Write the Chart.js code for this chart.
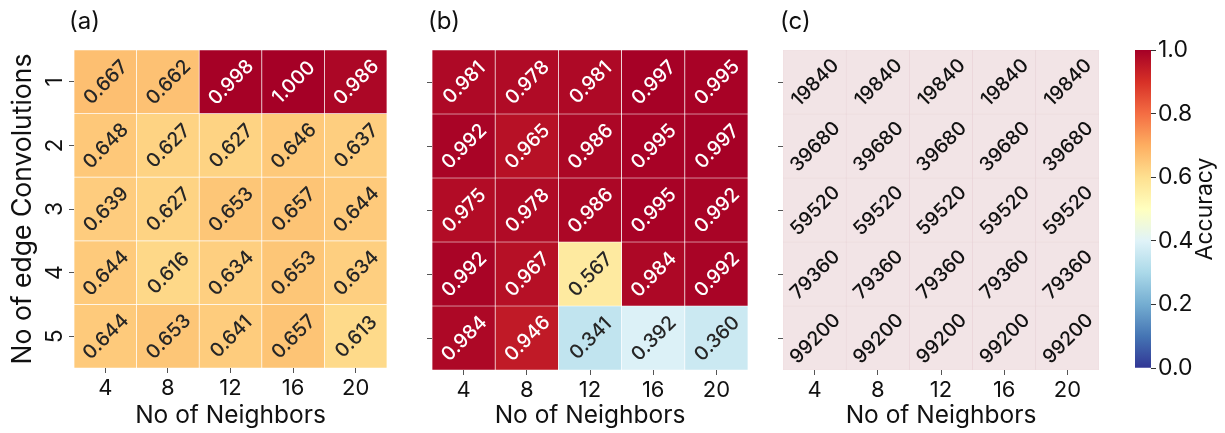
<!DOCTYPE html>
<html>
<head>
<meta charset="utf-8">
<script src="https://cdn.jsdelivr.net/npm/chart.js@4.4.1/dist/chart.umd.min.js"></script>
<style>
  html, body { margin: 0; padding: 0; background: #fff; width: 1225px; height: 433px; overflow: hidden; }
  canvas { position: absolute; top: 0; }
</style>
</head>
<body>
<canvas id="panelA" width="400" height="433" style="left:0px;width:400px;height:433px"></canvas>
<canvas id="panelB" width="360" height="433" style="left:400px;width:360px;height:433px"></canvas>
<canvas id="panelC" width="355" height="433" style="left:760px;width:355px;height:433px"></canvas>
<canvas id="colorbar" width="110" height="433" style="left:1115px;width:110px;height:433px"></canvas>
<script>
// Grid axes
const neighbors = ['4', '8', '12', '16', '20'];
const convRows = [1, 2, 3, 4, 5];
const rowTickLabels = ['1', '2', '3', '4', '5'];

// (a) accuracy per (convolutions, neighbors)
const accuracyA = [
  [0.667, 0.662, 0.998, 1.000, 0.986],
  [0.648, 0.627, 0.627, 0.646, 0.637],
  [0.639, 0.627, 0.653, 0.657, 0.644],
  [0.644, 0.616, 0.634, 0.653, 0.634],
  [0.644, 0.653, 0.641, 0.657, 0.613]
];

// (b) accuracy per (convolutions, neighbors)
const accuracyB = [
  [0.981, 0.978, 0.981, 0.997, 0.995],
  [0.992, 0.965, 0.986, 0.995, 0.997],
  [0.975, 0.978, 0.986, 0.995, 0.992],
  [0.992, 0.967, 0.567, 0.984, 0.992],
  [0.984, 0.946, 0.341, 0.392, 0.360]
];

// (c) parameter counts per (convolutions, neighbors)
const paramsC = [
  [19840, 19840, 19840, 19840, 19840],
  [39680, 39680, 39680, 39680, 39680],
  [59520, 59520, 59520, 59520, 59520],
  [79360, 79360, 79360, 79360, 79360],
  [99200, 99200, 99200, 99200, 99200]
];

// Colour bar ticks
const colorbarTicks = [0.0, 0.2, 0.4, 0.6, 0.8, 1.0];

const FONT = 'Inter, "Noto Sans", "DejaVu Sans", sans-serif';
Chart.defaults.font.family = FONT;
Chart.defaults.color = '#111';
Chart.defaults.animation = false;

// RdYlBu reversed, 11 anchors over [0, 1]
const RDYLBU_R = ['#313695', '#4575b4', '#74add1', '#abd9e9', '#e0f3f8', '#ffffbf',
                  '#fee090', '#fdae61', '#f46d43', '#d73027', '#a50026'];
function hexRgb(h) { return [1, 3, 5].map(i => parseInt(h.substr(i, 2), 16)); }
function cmap(v) {
  const t = Math.max(0, Math.min(1, v)) * (RDYLBU_R.length - 1);
  const i = Math.min(Math.floor(t), RDYLBU_R.length - 2);
  const f = t - i;
  const a = hexRgb(RDYLBU_R[i]), b = hexRgb(RDYLBU_R[i + 1]);
  const c = a.map((x, k) => Math.round(x + (b[k] - x) * f));
  return `rgb(${c[0]},${c[1]},${c[2]})`;
}

// Values printed inside each cell, rotated
const cellLabels = {
  id: 'cellLabels',
  afterDatasetsDraw(chart) {
    const ctx = chart.ctx;
    chart.data.datasets.forEach((ds, di) => {
      const meta = chart.getDatasetMeta(di);
      meta.data.forEach((bar, i) => {
        const cx = bar.x;
        const cy = (bar.y + bar.base) / 2;
        ctx.save();
        ctx.translate(cx, cy);
        ctx.rotate(-45 * Math.PI / 180);
        ctx.font = '500 19.5px ' + FONT;
        ctx.fillStyle = ds.textColors[i];
        ctx.textAlign = 'center';
        ctx.textBaseline = 'middle';
        ctx.fillText(ds.cellTexts[i], 0, 1);
        ctx.restore();
      });
    });
  }
};

// Panel letter and rotated row tick labels
const panelDecor = {
  id: 'panelDecor',
  afterDraw(chart, args, opts) {
    const ctx = chart.ctx;
    const area = chart.chartArea;
    ctx.save();
    ctx.fillStyle = '#111';
    ctx.font = '24px ' + FONT;
    ctx.textAlign = 'left';
    ctx.textBaseline = 'middle';
    ctx.fillText(opts.letter, area.left + opts.letterDx, 22);
    if (opts.rowLabels) {
      const y = chart.scales.y;
      ctx.font = '23px ' + FONT;
      ctx.textAlign = 'center';
      y.ticks.forEach((t, i) => {
        ctx.save();
        ctx.translate(area.left - 19, y.getPixelForValue(t.value));
        ctx.rotate(-Math.PI / 2);
        ctx.fillText(rowTickLabels[i], 0, 0);
        ctx.restore();
      });
    }
    ctx.restore();
  }
};

function heatPanel(id, values, cfg) {
  const datasets = convRows.map((r, ri) => ({
    data: neighbors.map(() => [r - 0.5, r + 0.5]),
    backgroundColor: values[ri].map(cfg.fill),
    borderColor: cfg.line,
    borderWidth: 0.7,
    borderSkipped: false,
    cellTexts: values[ri].map(cfg.fmt),
    textColors: values[ri].map(cfg.ink)
  }));
  return new Chart(document.getElementById(id), {
    type: 'bar',
    data: { labels: neighbors, datasets },
    plugins: [cellLabels, panelDecor],
    options: {
      responsive: false,
      maintainAspectRatio: false,
      layout: { padding: { top: 50, right: cfg.padRight, left: 0, bottom: 0 } },
      datasets: { bar: { grouped: false, barPercentage: 1, categoryPercentage: 1 } },
      plugins: {
        legend: { display: false },
        tooltip: { enabled: false },
        panelDecor: { letter: cfg.letter, letterDx: cfg.letterDx, rowLabels: cfg.rowLabels }
      },
      scales: {
        x: {
          type: 'category',
          offset: true,
          grid: { display: true, drawOnChartArea: false, offset: false, tickLength: 5, tickColor: '#555', tickWidth: 1 },
          border: { display: false },
          ticks: { font: { size: 22 }, color: '#111', padding: 2, maxRotation: 0 },
          title: { display: true, text: 'No of Neighbors', font: { size: 24.5 }, color: '#111', padding: { top: 0, bottom: 3 } },
          afterFit: s => { s.height = cfg.xHeight; }
        },
        y: {
          type: 'linear',
          min: 0.5,
          max: 5.5,
          reverse: true,
          afterBuildTicks: s => { s.ticks = convRows.map(v => ({ value: v })); },
          grid: { display: true, drawOnChartArea: false, tickLength: 5, tickColor: '#555', tickWidth: 1 },
          border: { display: false },
          ticks: { display: false },
          title: cfg.yTitle ? { display: true, text: 'No of edge Convolutions', font: { size: 26.5 }, color: '#111', padding: { top: 7, bottom: 0 } } : { display: false },
          afterFit: s => { s.width = cfg.yWidth; }
        }
      }
    }
  });
}

const fmt3 = v => v.toFixed(3);
const accInk = v => (v > 0.8 || v < 0.2) ? '#ffffff' : '#262626';

heatPanel('panelA', accuracyA, {
  fill: cmap, fmt: fmt3, ink: accInk, line: 'rgba(255,255,255,0.35)',
  letter: '(a)', letterDx: -5, rowLabels: true, yTitle: true,
  yWidth: 74, xHeight: 65, padRight: 13
});
heatPanel('panelB', accuracyB, {
  fill: cmap, fmt: fmt3, ink: accInk, line: 'rgba(255,255,255,0.45)',
  letter: '(b)', letterDx: -4, rowLabels: false, yTitle: false,
  yWidth: 32, xHeight: 63, padRight: 12
});
heatPanel('panelC', paramsC, {
  fill: () => '#f2e4e6', fmt: v => String(v), ink: () => '#111111', line: 'rgba(225,195,200,0.6)',
  letter: '(c)', letterDx: -3, rowLabels: false, yTitle: false,
  yWidth: 23, xHeight: 63, padRight: 16
});

// Colour bar: one floating bar spanning [0, 1] filled with the colormap
const colorbarTitle = {
  id: 'colorbarTitle',
  afterDraw(chart) {
    const ctx = chart.ctx;
    ctx.save();
    ctx.translate(90, 209);
    ctx.rotate(-Math.PI / 2);
    ctx.font = '23px ' + FONT;
    ctx.fillStyle = '#111';
    ctx.textAlign = 'center';
    ctx.textBaseline = 'middle';
    ctx.fillText('Accuracy', 0, 0);
    ctx.restore();
  }
};

new Chart(document.getElementById('colorbar'), {
  type: 'bar',
  data: {
    labels: [''],
    datasets: [{
      data: [[colorbarTicks[0], colorbarTicks[colorbarTicks.length - 1]]],
      backgroundColor: (c) => {
        const area = c.chart.chartArea;
        if (!area) return '#ccc';
        const g = c.chart.ctx.createLinearGradient(0, area.bottom, 0, area.top);
        RDYLBU_R.forEach((col, i) => g.addColorStop(i / (RDYLBU_R.length - 1), col));
        return g;
      },
      borderWidth: 0,
      barPercentage: 1,
      categoryPercentage: 1
    }]
  },
  plugins: [colorbarTitle],
  options: {
    responsive: false,
    maintainAspectRatio: false,
    layout: { padding: { top: 50, left: 20, right: 0, bottom: 65 } },
    plugins: { legend: { display: false }, tooltip: { enabled: false } },
    scales: {
      x: { display: false },
      y: {
        position: 'right',
        min: 0,
        max: 1,
        afterBuildTicks: s => { s.ticks = colorbarTicks.map(v => ({ value: v })); },
        grid: { display: true, drawOnChartArea: false, tickLength: 5, tickColor: '#333', tickWidth: 1 },
        border: { display: false },
        ticks: { font: { size: 23 }, color: '#111', padding: 2, callback: v => Number(v).toFixed(1) },
        afterFit: s => { s.width = 74; }
      }
    }
  }
});
</script>
</body>
</html>
